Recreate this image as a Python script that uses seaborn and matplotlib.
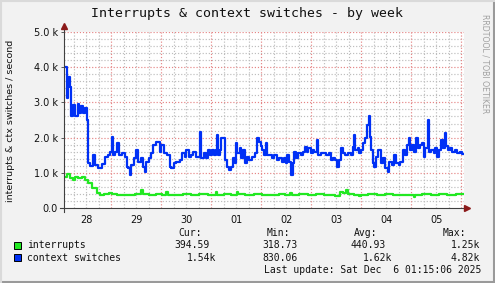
import matplotlib
matplotlib.use("Agg")
import matplotlib.pyplot as plt
from matplotlib.patches import Rectangle
import pandas as pd
import seaborn as sns

# ---------------- data ----------------
START = "2025-11-28 01:15:06"
END = "2025-12-06 01:15:06"

cs_hours = [0.5, 1.3, 2.1, 2.9, 3.4, 4.2, 5.3, 6.6, 7.2, 8.2, 9.1, 10.1, 11.2, 11.7,
            12.5, 13.8, 14.9, 16.5, 18.1, 19.7, 21.0, 22.1, 22.9, 23.7, 24.5, 25.6,
            26.4, 27.7, 29.3, 30.1, 30.7, 31.5, 32.3, 33.6, 34.7, 35.5, 36.8, 37.9,
            38.7, 39.5, 40.7, 41.9, 42.7, 44.3, 45.6, 46.2, 46.7, 48.0, 49.6, 50.7,
            51.5, 52.8, 53.9, 55.5, 56.6, 57.9, 58.7, 59.9, 61.1, 61.9, 63.2, 64.8,
            65.3, 65.9, 67.2, 68.3, 69.1, 70.1, 71.2, 72.0, 72.8, 73.3, 73.9, 74.9,
            75.5, 76.5, 77.1, 78.1, 79.2, 80.3, 81.3, 81.9, 82.6, 83.2, 84.3, 85.1,
            86.1, 86.9, 88.0, 88.8, 90.4, 91.5, 92.8, 93.6, 94.4, 94.9, 96.0, 97.0,
            97.6, 98.9, 99.7, 100.8, 102.1, 103.3, 104.5, 105.6, 106.6, 107.2, 108.1,
            109.0, 109.8, 110.5, 111.4, 112.5, 113.6, 114.9, 115.7, 116.5, 117.3,
            118.4, 119.4, 120.2, 121.3, 122.1, 123.4, 124.5, 125.8, 127.1, 128.2,
            129.3, 130.2, 131.0, 131.9, 133.0, 133.8, 135.0, 136.2, 137.8, 138.6,
            139.1, 139.8, 141.0, 141.7, 142.6, 143.4, 144.5, 145.3, 146.3, 146.9,
            147.4, 148.2, 148.9, 149.8, 150.6, 151.7, 152.2, 153.3, 154.2, 155.4,
            156.1, 157.3, 158.3, 159.4, 160.7, 161.4, 162.6, 163.5, 164.6, 165.5,
            166.2, 167.0, 167.9, 169.0, 169.9, 171.0, 171.8, 172.7, 173.4, 174.6,
            175.1, 176.3, 177.5, 178.2, 179.0, 180.1, 181.1, 181.8, 182.7, 183.5,
            184.3, 185.4, 186.2, 187.5, 188.6, 189.9, 191.0, 192.0]
cs_values = [4010, 3120, 3730, 3450, 2600, 2930, 2600, 2950, 2700, 2900, 2700, 2850, 2500, 1270,
             1180, 1500, 1220, 1130, 1250, 1450, 1500, 1600, 2030, 1500, 1600, 1850,
             1500, 1550, 1450, 1170, 1130, 940, 1220, 1420, 1650, 1320, 1420, 1170,
             1030, 1320, 1420, 1550, 1790, 1880, 1880, 1600, 1800, 1550, 1500, 1170,
             1130, 1270, 1320, 1360, 1550, 1460, 1650, 1460, 1500, 1600, 1460, 1460,
             2170, 1420, 1550, 1420, 1650, 1500, 1650, 1500, 1650, 2070, 1500, 1650,
             1980, 1980, 1360, 1170, 1080, 1170, 1420, 1270, 1840, 1550, 1700, 1420,
             1650, 1270, 1460, 1360, 1460, 1550, 1980, 1880, 1750, 1650, 1500, 1840,
             1500, 1500, 1420, 1500, 1360, 1420, 1320, 1420, 1270, 1500, 1320,
             940, 1270, 1600, 1420, 1550, 1500, 1600, 1740, 1600, 1700,
             1550, 1650, 1600, 1930, 1500, 1550, 1550, 1500, 1550, 1360,
             1420, 1360, 1170, 1360, 1700, 1550, 1500, 1550, 1500, 1740,
             2070, 1650, 1700, 1550, 1650, 1840, 1980, 2360, 2600, 2020,
             1650, 1270, 1170, 1460, 1650, 1650, 1270, 1420, 1130, 1030,
             1320, 1220, 1500, 1270, 1220, 1320, 1650, 1500, 1790, 1980,
             1650, 1790, 1600, 1980, 1700, 1790, 1840, 1460, 1700, 2500,
             1600, 1650, 1550, 1700, 1460, 1650, 1930, 1700, 2120, 1750,
             1650, 1700, 1600, 1650, 1550, 1600, 1540, 1540]

intr_hours = [0.5, 1.6, 2.9, 4.2, 5.3, 6.9, 8.5, 10.1, 11.7, 13.3, 14.9, 15.7, 17.3, 19.0,
              21.5, 23.0, 25.5, 28.0, 31.0, 34.0, 36.8, 37.8, 41.0, 44.0, 47.0, 49.1,
              49.8, 53.0, 57.0, 61.0, 65.0, 69.0, 72.8, 73.4, 77.0, 80.0, 83.0, 83.6,
              87.0, 91.0, 95.0, 99.0, 103.0, 106.0, 108.5, 109.2, 113.0, 117.0, 121.0,
              125.0, 128.0, 130.0, 132.5, 134.0, 135.6, 136.4, 139.0, 141.6, 142.4,
              146.0, 150.0, 154.0, 158.0, 162.0, 166.0, 167.9, 168.6, 172.0, 176.0,
              180.0, 184.0, 188.0, 192.0]
intr_values = [890, 970, 840, 800, 870, 840, 870, 800, 700, 580, 560, 420, 370, 390,
               430, 400, 380, 370, 380, 390, 500, 390, 380, 400, 380, 450,
               380, 370, 390, 380, 390, 380, 450, 380, 390, 380, 450, 390,
               380, 390, 370, 380, 390, 380, 420, 380, 390, 370, 390,
               380, 370, 350, 460, 440, 520, 400, 380, 330, 380,
               390, 380, 390, 380, 370, 380, 320, 380, 390, 380,
               390, 380, 395, 395]

series_names = ["interrupts", "context switches"]
series_colors = ["#22E822", "#0030F5"]
y_ticks = [0, 1000, 2000, 3000, 4000, 5000]
day_labels = ["28", "29", "30", "01", "02", "03", "04", "05"]
stats_header = ["Cur:", "Min:", "Avg:", "Max:"]
stats_intr = ["394.59", "318.73", "440.93", "1.25k"]
stats_cs = ["1.54k", "830.06", "1.62k", "4.82k"]
last_update = "Last update: Sat Dec  6 01:15:06 2025"

# ---------------- build frame ----------------
t0 = pd.Timestamp(START)
t1 = pd.Timestamp(END)
df = pd.concat([
    pd.DataFrame({"time": t0 + pd.to_timedelta(intr_hours, unit="h"),
                  "value": intr_values, "series": series_names[0]}),
    pd.DataFrame({"time": t0 + pd.to_timedelta(cs_hours, unit="h"),
                  "value": cs_values, "series": series_names[1]}),
])

# ---------------- figure ----------------
W, H = 495, 283
fig = plt.figure(figsize=(W / 100, H / 100), dpi=100, facecolor="#F2F2F2")

def fx(px):
    return px / W

def fy(py):
    return 1 - py / H

ax = fig.add_axes([fx(64), fy(208), 400 / W, 176 / H])
ax.set_facecolor("white")
ax.set_xlim(t0, t1)
ax.set_ylim(0, 5000)

# grid
minor_c = "#BDBDBD"
major_c = "#E58585"
dot = (0, (1, 1.6))
for v in range(0, 5001, 200):
    if v % 1000 == 0:
        continue
    ax.axhline(v, color=minor_c, lw=0.85, ls=dot, zorder=0)
for v in y_ticks[1:]:
    ax.axhline(v, color=major_c, lw=0.85, ls=dot, zorder=0.5)
grid6 = pd.date_range(t0.floor("D"), t1, freq="6h")
for g in grid6:
    if g <= t0:
        continue
    if g.hour == 0:
        ax.axvline(g, color=major_c, lw=0.85, ls=dot, zorder=0.5)
    else:
        ax.axvline(g, color=minor_c, lw=0.85, ls=dot, zorder=0)

sns.lineplot(data=df, x="time", y="value", hue="series", hue_order=series_names,
             palette=series_colors, drawstyle="steps-post", linewidth=1.6,
             legend=False, ax=ax, zorder=3)

# axes lines / arrows
for s in ax.spines.values():
    s.set_visible(False)
axc = "#404040"
ax.plot([0, 0], [-0.02, 1.02], transform=ax.transAxes, color=axc, lw=0.8, clip_on=False, zorder=4)
ax.plot([-0.01, 1.0075], [0, 0], transform=ax.transAxes, color=axc, lw=0.8, clip_on=False, zorder=4)
ax.plot([0], [1.035], marker="^", ms=4.5, color="#8B1A1A", transform=ax.transAxes, clip_on=False, zorder=5)
ax.plot([1.0085], [0], marker=">", ms=4.5, color="#8B1A1A", transform=ax.transAxes, clip_on=False, zorder=5)

# ticks
noons = pd.date_range(t0.floor("D") + pd.Timedelta(hours=12), periods=len(day_labels), freq="D")
ax.set_xticks(noons)
ax.set_xticklabels(day_labels)
ax.tick_params(axis="x", length=0, pad=5, labelsize=7, labelcolor="#111111")
ax.set_yticks(y_ticks)
ax.set_yticklabels(["0.0"] + [f"{v/1000:.1f} k" for v in y_ticks[1:]])
ax.tick_params(axis="y", length=2, width=0.6, color=axc, pad=2.5, labelsize=7, labelcolor="#111111")
ax.set_xlabel("")
ax.set_ylabel("")

fig.text(fx(11), fy(121), "interrupts & ctx switches / second", rotation=90,
         ha="center", va="center", fontsize=6.8, color="#111111", family="DejaVu Sans")

# title
fig.text(fx(247), fy(14), "Interrupts & context switches - by week", ha="center", va="center",
         fontsize=9.5, family="DejaVu Sans Mono", color="#111111")

# side text
fig.text(fx(485), fy(14), "RRDTOOL / TOBI OETIKER", rotation=270, ha="center", va="top",
         fontsize=5.6, color="#A0A0A0", family="DejaVu Sans")

# legend
mono = dict(family="DejaVu Sans Mono", fontsize=7, color="#111111", va="center")
head_x = [202, 290, 377, 466]
for txt, x in zip(stats_header, head_x):
    fig.text(fx(x), fy(233.5), txt, ha="right", **mono)

rows = [(245.5, series_names[0], series_colors[0], stats_intr, [210, 298, 386, 480]),
        (257.8, series_names[1], series_colors[1], stats_cs, [216, 298, 392, 480])]
for y, name, col, vals, xs in rows:
    fig.patches.append(Rectangle((fx(13.5), fy(y + 3.6)), 7 / W, 7 / H, transform=fig.transFigure,
                                 facecolor=col, edgecolor="#000000", lw=0.7))
    fig.text(fx(27), fy(y), name, ha="left", **mono)
    for v, x in zip(vals, xs):
        fig.text(fx(x), fy(y), v, ha="right", **mono)

fig.text(fx(481), fy(270), last_update, ha="right", **mono)

# frame border
fig.add_artist(plt.Line2D([0, 1], [fy(282), fy(282)], transform=fig.transFigure, color="#9A9A9A", lw=1.5))
fig.add_artist(plt.Line2D([fx(494), fx(494)], [0, 1], transform=fig.transFigure, color="#9A9A9A", lw=1.5))
fig.add_artist(plt.Line2D([0, 1], [fy(0.5), fy(0.5)], transform=fig.transFigure, color="#DADADA", lw=1.5))
fig.add_artist(plt.Line2D([fx(0.5), fx(0.5)], [0, 1], transform=fig.transFigure, color="#DADADA", lw=1.5))

fig.savefig("out.png", dpi=100, facecolor=fig.get_facecolor())
